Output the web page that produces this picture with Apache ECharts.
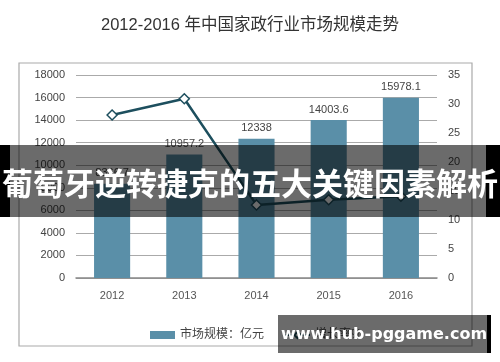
<!DOCTYPE html>
<html><head><meta charset="utf-8">
<script src="https://cdn.jsdelivr.net/npm/echarts@6/dist/echarts.min.js"></script>
<style>html,body{margin:0;padding:0;background:#fff}#c{width:500px;height:362px}</style>
</head><body><div id="c"></div>
<script>
var categories = ['2012','2013','2014','2015','2016'];
var marketSize = [8366.7, 10957.2, 12338, 14003.6, 15978.1];
var growthRate = [28.1, 30.9, 12.6, 13.5, 14.1];
var leftTicks = [0, 2000, 4000, 6000, 8000, 10000, 12000, 14000, 16000, 18000];
var rightTicks = [0, 5, 10, 15, 20, 25, 30, 35];
var titleText = '2012-2016 年中国家政行业市场规模走势';
var bannerText = '葡萄牙逆转捷克的五大关键因素解析';
var watermarkText = 'www.hub-pggame.com';

var chart = echarts.init(document.getElementById('c'), null, {renderer:'canvas'});
var F = '"Liberation Sans", "Noto Sans CJK SC", sans-serif';
chart.setOption({
  animation:false,
  backgroundColor:'#fff',
  title:{text:titleText, left:'center', top:12, textStyle:{fontSize:16.5, fontWeight:'normal', color:'#333', fontFamily:F}},
  grid:{left:76, right:63, top:75, bottom:84},
  legend:{left:145, top:324, itemWidth:25, itemHeight:8, itemGap:20,
    textStyle:{fontSize:12, color:'#444', fontFamily:F},
    data:[{name:'市场规模：亿元', icon:'rect'}, {name:'增长率%'}]},
  xAxis:{type:'category', data:categories,
    axisLine:{lineStyle:{color:'#888', width:1.5}}, axisTick:{show:false},
    axisLabel:{color:'#555', fontSize:11, margin:12, fontFamily:F}},
  yAxis:[
    {type:'value', min:leftTicks[0], max:leftTicks[leftTicks.length-1], interval:2000,
      axisLine:{show:false}, axisTick:{show:false},
      axisLabel:{color:'#444', fontSize:11, margin:11, fontFamily:F, formatter:function(v){return String(v);}},
      splitLine:{lineStyle:{color:'#aaa'}}},
    {type:'value', min:rightTicks[0], max:rightTicks[rightTicks.length-1], interval:5,
      axisLine:{show:false}, axisTick:{show:false},
      axisLabel:{color:'#444', fontSize:11, margin:11, fontFamily:F, formatter:function(v){return String(v);}},
      splitLine:{show:false}}
  ],
  series:[
    {name:'市场规模：亿元', type:'bar', data:marketSize, barWidth:'50%',
      itemStyle:{color:'#5a8fa8'},
      label:{show:true, position:'top', color:'#444', fontSize:11, fontFamily:F, formatter:function(p){return String(p.value);}}},
    {name:'增长率%', type:'line', yAxisIndex:1, data:growthRate,
      symbol:'diamond', symbolSize:10,
      lineStyle:{color:'#1d4f5e', width:2.5},
      itemStyle:{color:'#fff', borderColor:'#1d4f5e', borderWidth:1.5}}
  ],
  graphic:[
    {type:'rect', shape:{x:19, y:63, width:453, height:283}, style:{fill:'none', stroke:'#aaa', lineWidth:1.2}, z:0, silent:true},
    {type:'rect', shape:{x:0, y:145, width:500, height:72}, style:{fill:'rgba(0,0,0,0.58)'}, z:100},
    {type:'rect', shape:{x:0, y:145, width:10, height:72}, style:{fill:'#000'}, z:101},
    {type:'rect', shape:{x:486, y:145, width:14, height:72}, style:{fill:'#000'}, z:101},
    {type:'text', x:250, y:183, style:{text:bannerText, fill:'#fff', font:'bold 31px "Noto Sans CJK SC", sans-serif', textAlign:'center', textVerticalAlign:'middle'}, z:102},
    {type:'rect', shape:{x:278, y:315, width:209, height:38}, style:{fill:'rgba(0,0,0,0.58)'}, z:100},
    {type:'rect', shape:{x:487, y:315, width:4, height:38}, style:{fill:'#000'}, z:101},
    {type:'text', x:384, y:335, style:{text:watermarkText, fill:'#fff', font:'bold 16px "DejaVu Sans", sans-serif', textAlign:'center', textVerticalAlign:'middle'}, z:102}
  ]
});
</script></body></html>
